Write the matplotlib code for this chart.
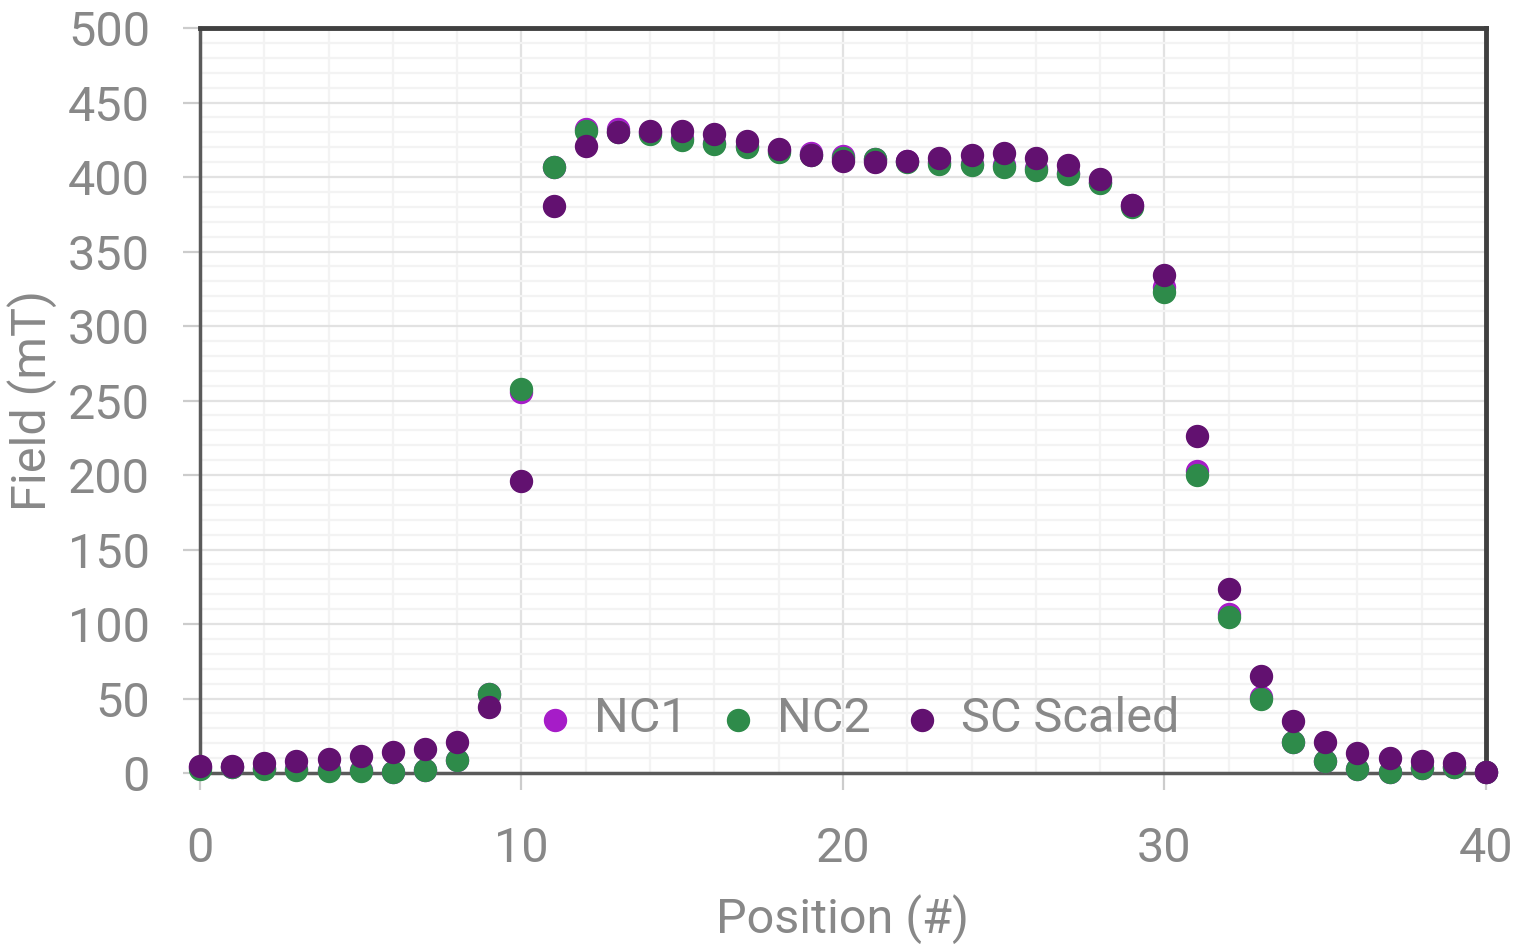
import matplotlib.pyplot as plt
from matplotlib.ticker import MultipleLocator

plt.rcParams['font.family'] = ['Roboto', 'DejaVu Sans']

position = list(range(41))

nc1 = [4, 4, 3.5, 2.5, 2, 2, 0.5, 2, 9, 53, 256, 407, 432, 432, 430, 426, 423, 421,
       418, 416, 414, 412, 411, 410, 409, 408, 406, 403, 397, 381, 326, 203, 107, 51,
       21, 8, 3, 1, 3.5, 4, 0.5]
nc2 = [3, 4, 3, 2, 1.5, 1.5, 1, 2, 9, 53, 258, 407, 431, 430, 429, 425, 422, 420,
       417, 415, 413, 412, 410, 409, 408, 407, 405, 402, 396, 380, 323, 200, 105, 50,
       21, 8, 2.7, 1, 3.4, 4, 0.5]
sc_scaled = [5, 5, 7, 8, 9.5, 11.5, 14, 16, 21, 44.5, 196, 380.5, 421, 430, 431, 431,
             429, 424, 419, 415, 411, 410, 411, 413, 415, 416, 413, 408, 399, 381, 334,
             226, 123.5, 65, 35, 21, 13.5, 10, 8, 6.7, 0.7]

fig = plt.figure(figsize=(15.16, 9.44), dpi=100)
ax = fig.add_axes([0.1319, 0.1811, 0.8483, 0.7892])

ms = 250
ax.scatter(position, nc1, s=ms, color='#a61cc8', label='NC1', clip_on=False, zorder=3)
ax.scatter(position, nc2, s=ms, color='#2e8b4a', label='NC2', clip_on=False, zorder=4)
ax.scatter(position, sc_scaled, s=ms, color='#621170', label='SC Scaled', clip_on=False, zorder=5)

ax.set_xlim(0, 40)
ax.set_ylim(0, 500)
ax.xaxis.set_major_locator(MultipleLocator(10))
ax.xaxis.set_minor_locator(MultipleLocator(2))
ax.yaxis.set_major_locator(MultipleLocator(50))
ax.yaxis.set_minor_locator(MultipleLocator(10))

ax.grid(which='major', color='#e2e2e2', lw=1.6, zorder=0)
ax.grid(which='minor', color='#f3f3f3', lw=1.6, zorder=0)
ax.set_axisbelow(True)

for side in ['top', 'right']:
    ax.spines[side].set_color('#404040')
    ax.spines[side].set_linewidth(3.5)
for side in ['left', 'bottom']:
    ax.spines[side].set_color('#5a5a5a')
    ax.spines[side].set_linewidth(2.5)

gray = '#888888'
ax.tick_params(which='major', axis='y', length=12, width=1.6, color='#cccccc',
               labelsize=35, labelcolor=gray, pad=24)
ax.tick_params(which='major', axis='x', length=12, width=1.6, color='#cccccc',
               labelsize=35, labelcolor=gray, pad=26)
ax.tick_params(which='minor', length=0)

ax.set_xlabel('Position (#)', fontsize=35, color=gray, labelpad=16)
ax.set_ylabel('Field (mT)', fontsize=35, color=gray, labelpad=8)

leg = ax.legend(loc='center', bbox_to_anchor=(0.513, 0.072), ncol=3, frameon=False,
                fontsize=35, handlelength=0.6, handletextpad=0.5, columnspacing=0.75)
for t in leg.get_texts():
    t.set_color(gray)

fig.savefig('out.png', dpi=100)
